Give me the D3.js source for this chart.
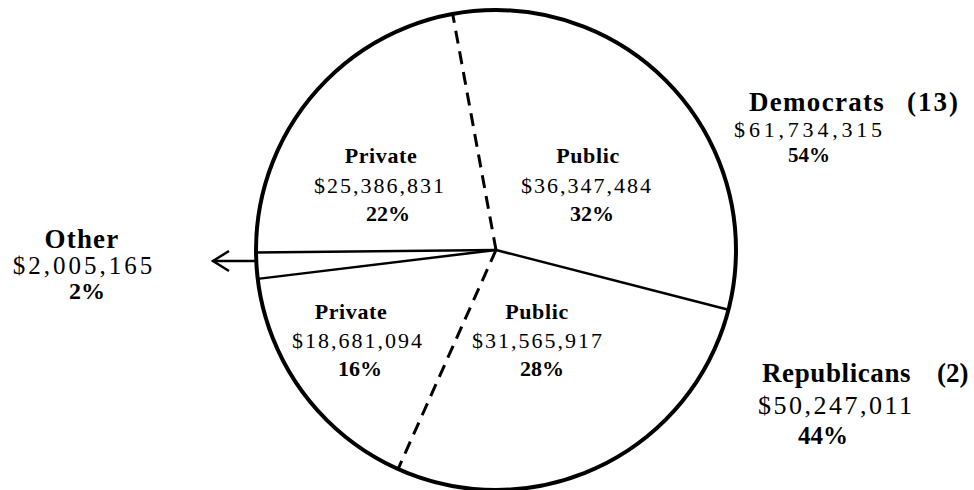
<!DOCTYPE html>
<html>
<head>
<meta charset="utf-8">
<script src="https://cdn.jsdelivr.net/npm/d3@7"></script>
<style>
  html, body { margin: 0; padding: 0; background: #fff; }
  svg { display: block; }
  text { font-family: "Liberation Serif", "Times New Roman", serif; fill: #000; }
</style>
</head>
<body>
<svg id="chart" width="974" height="490"></svg>
<script>
// ---- data ----
const sliceNames   = ["Public", "Public", "Private", "Other", "Private"];
const sliceParties = ["Democrats", "Republicans", "Republicans", "Other", "Democrats"];
const sliceAmounts = [36347484, 31565917, 18681094, 2005165, 25386831];
const slicePercents = [32, 28, 16, 2, 22];

const partyNames    = ["Democrats", "Republicans"];
const partyCounts   = [13, 2];
const partyAmounts  = [61734315, 50247011];
const partyPercents = [54, 44];

// ---- layout ----
const W = 974, H = 490;
const cx = 496, cy = 250, R = 240;
const startDeg = -10.4;

const svg = d3.select("#chart");
const g = svg.append("g").attr("transform", `translate(${cx},${cy})`);

const data = sliceAmounts.map((v, i) => ({
  name: sliceNames[i], party: sliceParties[i], value: v, pct: slicePercents[i]
}));

const pie = d3.pie().sort(null).value(d => d.value)
  .startAngle(startDeg * Math.PI / 180)
  .endAngle(startDeg * Math.PI / 180 + 2 * Math.PI);
const arcs = pie(data);

const arc = d3.arc().innerRadius(0).outerRadius(R);

// slice fills (white)
g.selectAll("path.slice").data(arcs).enter().append("path")
  .attr("class", "slice").attr("d", arc)
  .attr("fill", "#fff").attr("stroke", "none");

// boundary radial lines
const rScale = d3.scaleLinear().domain([0, 1]).range([0, R]);
arcs.forEach((a, i) => {
  const prev = arcs[(i - 1 + arcs.length) % arcs.length];
  const samePart = prev.data.party === a.data.party;
  const ang = a.startAngle;
  const x2 = Math.sin(ang) * rScale(1), y2 = -Math.cos(ang) * rScale(1);
  g.append("line")
    .attr("x1", 0).attr("y1", 0).attr("x2", x2).attr("y2", y2)
    .attr("stroke", "#000")
    .attr("stroke-width", samePart ? 3 : 2.5)
    .attr("stroke-dasharray", samePart ? "13,8" : null);
});

// outer circle
g.append("circle").attr("r", R).attr("fill", "none")
  .attr("stroke", "#000").attr("stroke-width", 4);

// ---- labels ----
const fmt = d3.format("$,");

function label(lines) {
  lines.forEach(l => {
    svg.append("text")
      .attr("x", l.x).attr("y", l.y)
      .attr("text-anchor", l.anchor || "middle")
      .attr("font-size", l.size)
      .attr("font-weight", l.bold ? "bold" : "normal")
      .attr("letter-spacing", l.ls || 0)
      .text(l.t);
  });
}

// inner slice label positions (centre x, baselines)
const innerPos = [
  [[588, 163], [587, 193], [592, 221]],   // Dem Public
  [[537, 319], [538, 348], [542, 376]],   // Rep Public
  [[351, 319], [358, 348], [360, 376]],   // Rep Private
  null,                                   // Other (outside)
  [[381, 163], [380, 193], [388, 221]]    // Dem Private
];

arcs.forEach((a, i) => {
  const p = innerPos[i];
  if (!p) return;
  label([
    { x: p[0][0], y: p[0][1], t: a.data.name, size: 22, bold: true, ls: 0.6 },
    { x: p[1][0], y: p[1][1], t: fmt(a.data.value), size: 22, ls: 2 },
    { x: p[2][0], y: p[2][1], t: a.data.pct + "%", size: 22, bold: true }
  ]);
});

// Other label + arrow
const other = arcs[3];
label([
  { x: 82, y: 248, t: other.data.name, size: 27, bold: true, ls: 1.2 },
  { x: 84, y: 274, t: fmt(other.data.value), size: 25, ls: 3 },
  { x: 87, y: 299, t: other.data.pct + "%", size: 24, bold: true }
]);
const arrowY = 261;
svg.append("line").attr("x1", cx - Math.sqrt(R * R - (arrowY - cy) ** 2)).attr("y1", arrowY)
  .attr("x2", 213).attr("y2", arrowY)
  .attr("stroke", "#000").attr("stroke-width", 2.5);
svg.append("path")
  .attr("d", `M229,251 L213,${arrowY} L229,271`)
  .attr("fill", "none").attr("stroke", "#000").attr("stroke-width", 2.5);

// Party labels
label([
  { x: 749, y: 111, t: partyNames[0], size: 27, bold: true, anchor: "start", ls: 1.3 },
  { x: 907, y: 111, t: "(" + partyCounts[0] + ")", size: 27, bold: true, anchor: "start", ls: 2 },
  { x: 810, y: 137, t: fmt(partyAmounts[0]), size: 22, ls: 3.8 },
  { x: 809, y: 162, t: partyPercents[0] + "%", size: 21, bold: true }
]);
label([
  { x: 762, y: 382, t: partyNames[1], size: 27, bold: true, anchor: "start", ls: 0.6 },
  { x: 937, y: 382, t: "(" + partyCounts[1] + ")", size: 27, bold: true, anchor: "start" },
  { x: 758, y: 414, t: fmt(partyAmounts[1]), size: 26, anchor: "start", ls: 2.5 },
  { x: 823, y: 444, t: partyPercents[1] + "%", size: 25, bold: true }
]);
</script>
</body>
</html>
